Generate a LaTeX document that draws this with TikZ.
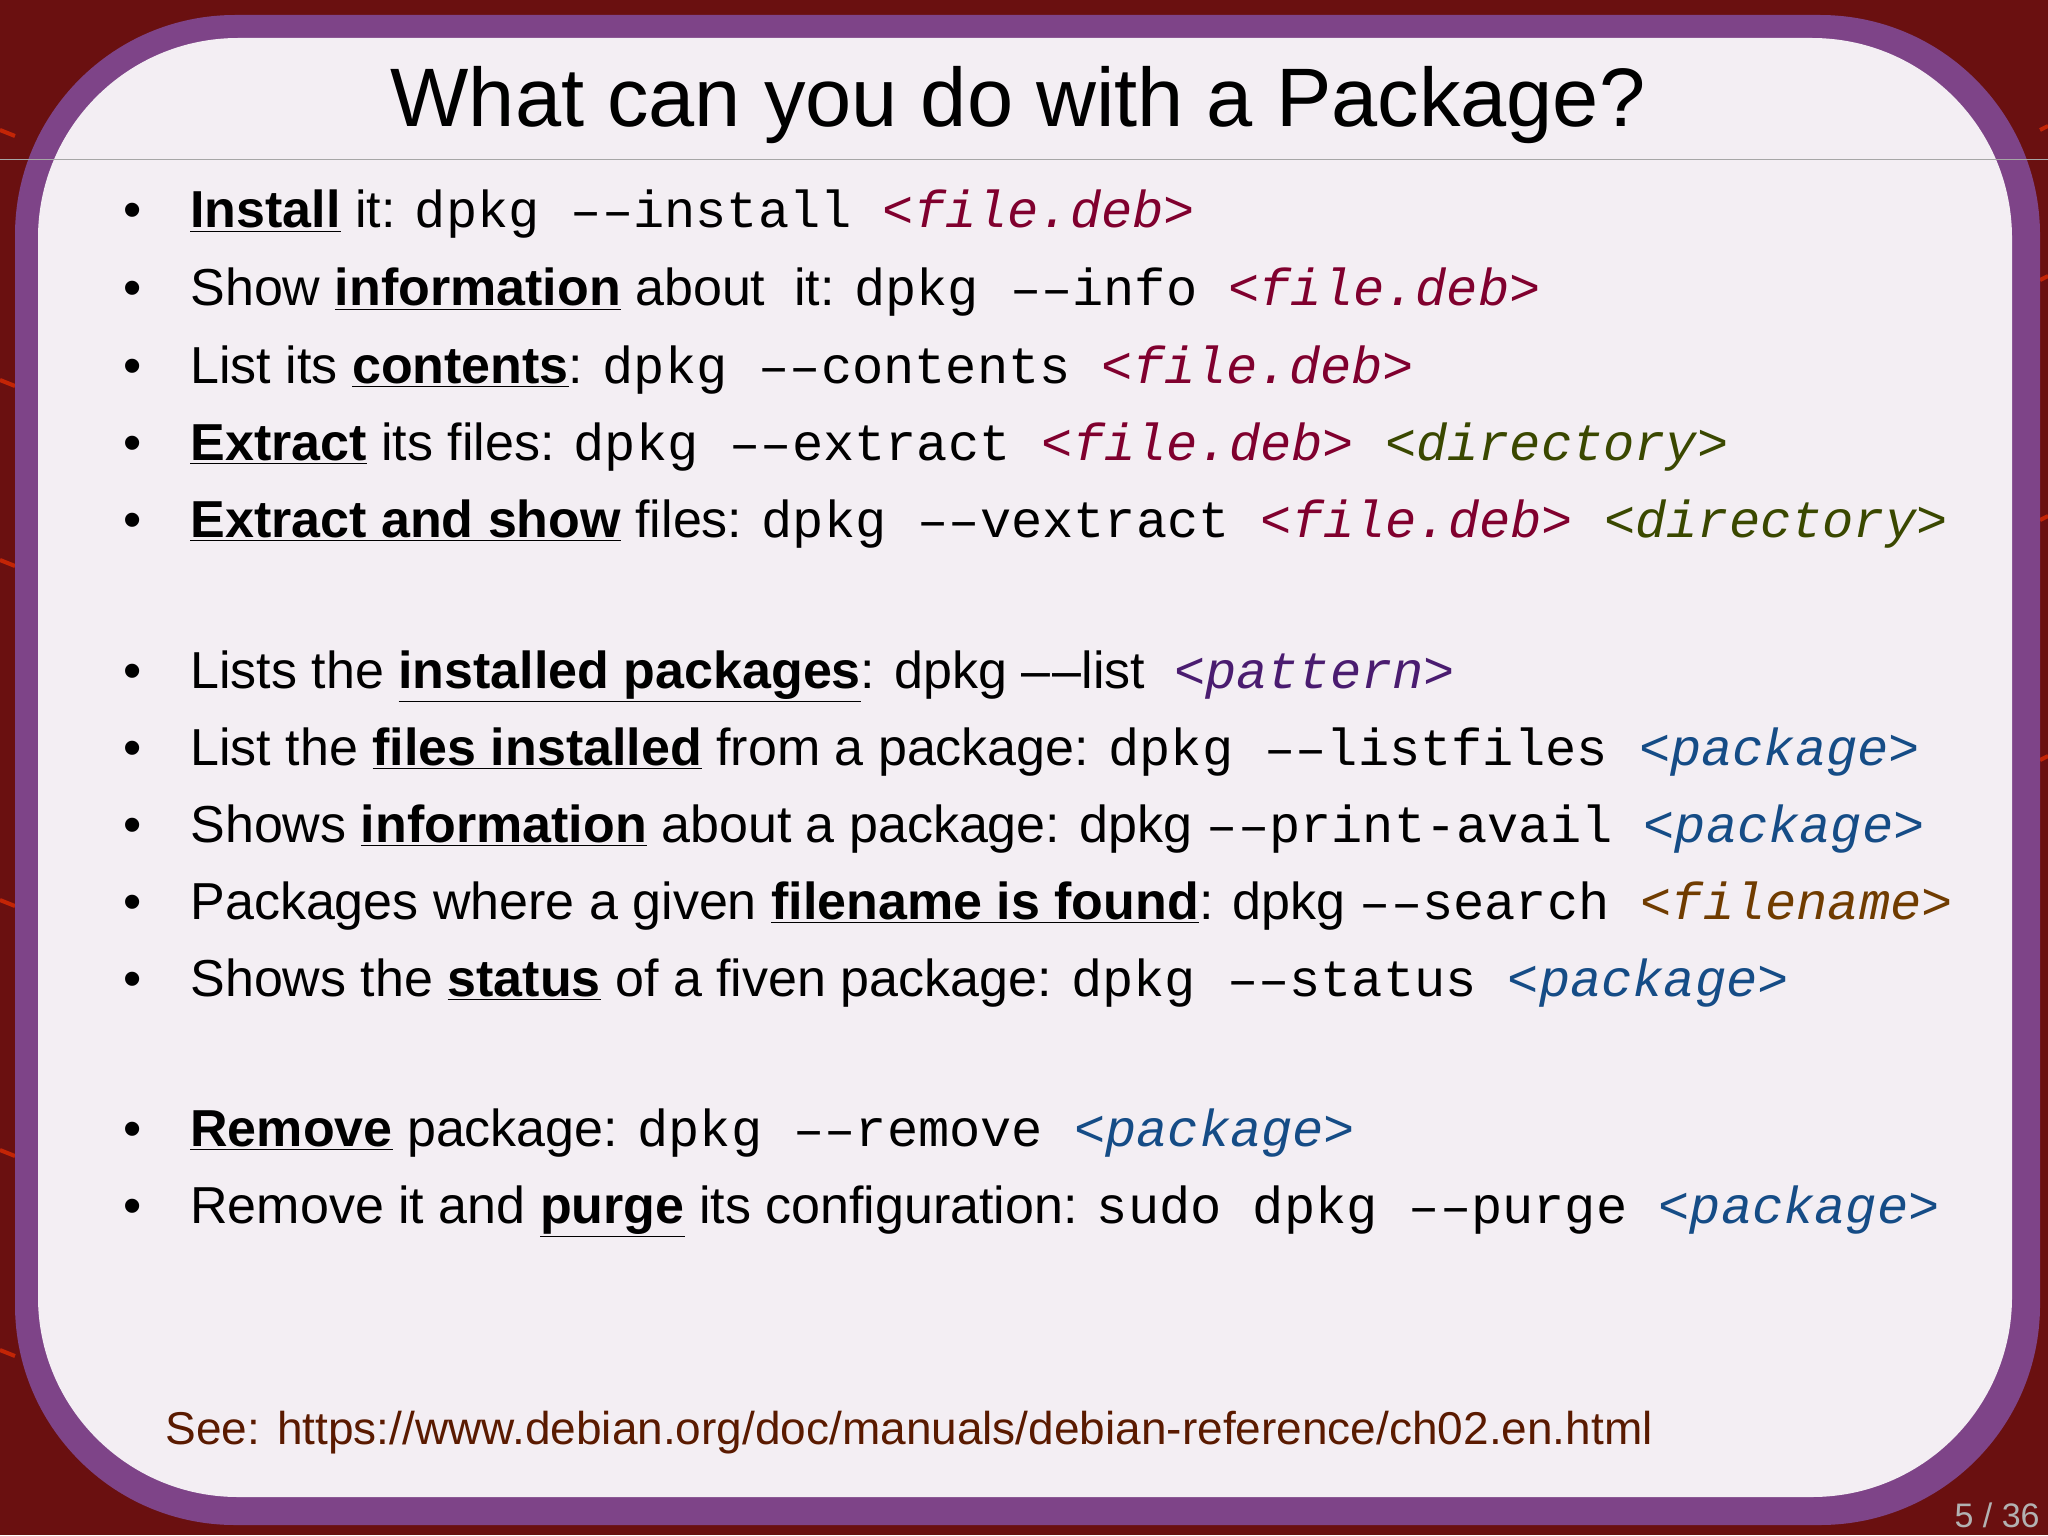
\documentclass[tikz,border=0pt]{standalone}
\usepackage{fontspec}
\setmainfont{Liberation Sans}
\setmonofont{Liberation Mono}
\definecolor{bgred}{HTML}{6A1010}
\definecolor{frame}{HTML}{7E4488}
\definecolor{paper}{HTML}{F3EEF3}
\definecolor{cfile}{HTML}{80002E}
\definecolor{cdir}{HTML}{3A4800}
\definecolor{cpat}{HTML}{4A1C70}
\definecolor{cpkg}{HTML}{154C86}
\definecolor{cfname}{HTML}{703C00}
\definecolor{clink}{HTML}{5A1A00}
\newcommand{\ub}[1]{\underline{\textbf{#1}}}
\newcommand{\argx}[2]{\textcolor{#1}{\texttt{\itshape <#2>}}}
\newcommand{\ms}{\texttt{ }}
\begin{document}
\begin{tikzpicture}[x=0.5pt,y=-0.5pt,
  item/.style={anchor=base west,inner sep=0pt,font=\fontsize{26}{30}\selectfont},
  dot/.style={anchor=base,inner sep=0pt,font=\fontsize{26}{30}\selectfont}]
\useasboundingbox (0,0) rectangle (2048,1535);
\fill[bgred] (0,0) rectangle (2048,1535);
\foreach \yy in {130,380,560,900,1150,1350}
  \draw[red!60!orange,line width=2pt,opacity=0.6] (0,\yy) -- (15,\yy+6);
\foreach \yy in {130,280,520,760}
  \draw[red!60!orange,line width=2pt,opacity=0.6] (2040,\yy) -- (2048,\yy-4);
\fill[frame,rounded corners=110pt] (15,15) rectangle (2040,1525);
\fill[paper,rounded corners=100pt] (38,38) rectangle (2012,1497);
\draw[gray!70,line width=0.5pt] (0,160) -- (2048,160);
\node[anchor=base,inner sep=0pt,font=\fontsize{41.5}{46}\selectfont] (title) at (1018,127) {What can you do with a Package?};
\foreach \y/\n in {228/1,306/2,383/3,460/4,537/5,688/6,765/7,842/8,919/9,996/10,1146/11,1223/12}
  \node[dot] (b\n) at (133,\y) {•};
\node[item] (l1) at (190,228) {\ub{Install} it: \texttt{dpkg ––install }\argx{cfile}{file.deb}};
\node[item] (l2) at (190,306) {Show \ub{information} about\ \ it: \texttt{dpkg ––info }\argx{cfile}{file.deb}};
\node[item] (l3) at (190,383) {List its \ub{contents}: \texttt{dpkg ––contents }\argx{cfile}{file.deb}};
\node[item] (l4) at (190,460) {\ub{Extract} its files: \texttt{dpkg ––extract }\argx{cfile}{file.deb}\ms\argx{cdir}{directory}};
\node[item] (l5) at (190,537) {\ub{Extract and show} files: \texttt{dpkg ––vextract }\argx{cfile}{file.deb}\ms\argx{cdir}{directory}};
\node[item] (l6) at (190,688) {Lists the \ub{installed packages}: dpkg –\kern1pt–list \ \argx{cpat}{pattern}};
\node[item] (l7) at (190,765) {List the \ub{files installed} from a package: \texttt{dpkg ––listfiles }\argx{cpkg}{package}};
\node[item] (l8) at (190,842) {Shows \ub{information} about a package: dpkg \texttt{––print-avail }\argx{cpkg}{package}};
\node[item] (l9) at (190,919) {Packages where a given \ub{filename is found}: dpkg \texttt{––search }\argx{cfname}{filename}};
\node[item] (l10) at (190,996) {Shows the \ub{status} of a fiven package: \texttt{dpkg ––status }\argx{cpkg}{package}};
\node[item] (l11) at (190,1146) {\ub{Remove} package: \texttt{dpkg ––remove }\argx{cpkg}{package}};
\node[item] (l12) at (190,1223) {Remove it and \ub{purge} its configuration: \texttt{sudo dpkg ––purge }\argx{cpkg}{package}};
\node[anchor=base west,inner sep=0pt,text=clink,font=\fontsize{23}{27}\selectfont] (see) at (165,1444) {See: https://www.debian.org/doc/manuals/debian-reference/ch02.en.html};
\node[anchor=base east,inner sep=0pt,text=gray!60,font=\fontsize{17}{20}\selectfont] (pg) at (2040,1527) {5 / 36};
\end{tikzpicture}
\end{document}
